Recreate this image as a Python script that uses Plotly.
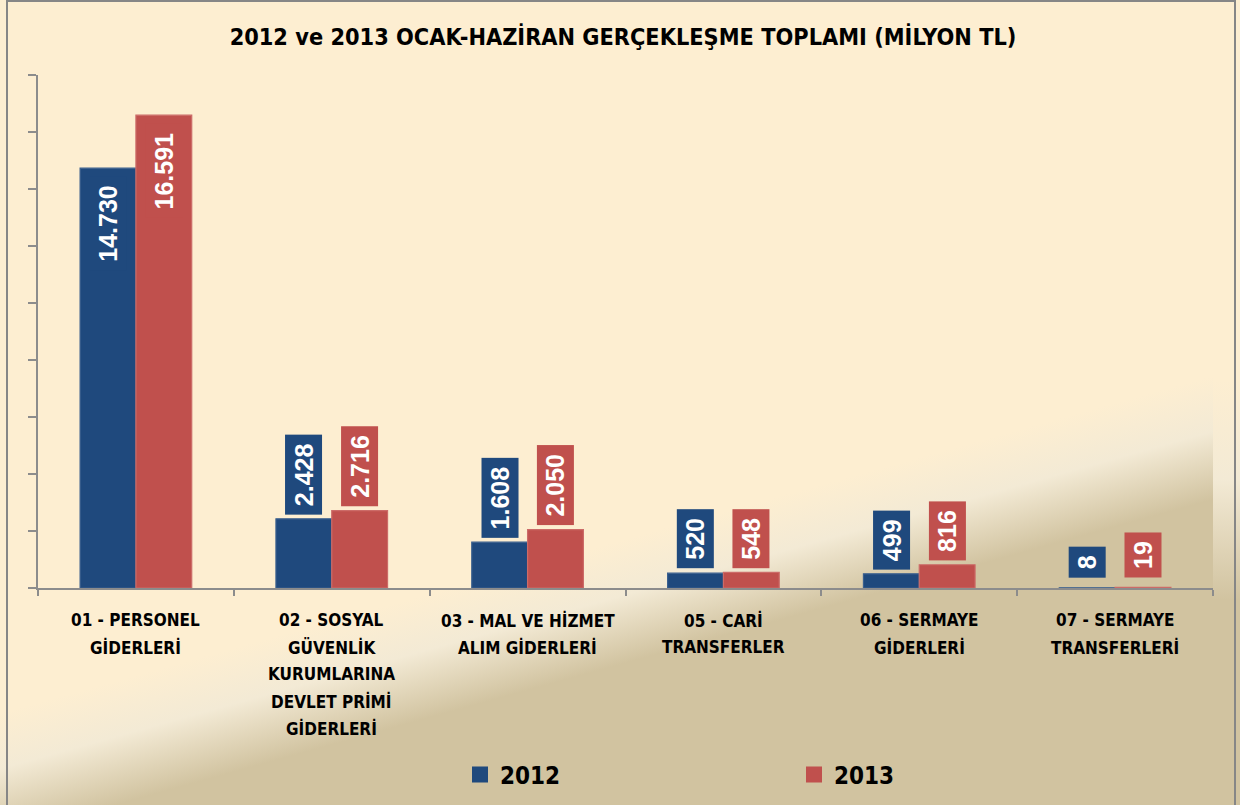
import base64
import plotly.graph_objects as go

# data (million TL)
categories = [
    "01 - PERSONEL\nGİDERLERİ",
    "02 - SOSYAL\nGÜVENLİK\nKURUMLARINA\nDEVLET PRİMİ\nGİDERLERİ",
    "03 - MAL VE HİZMET\nALIM GİDERLERİ",
    "05 - CARİ\nTRANSFERLER",
    "06 - SERMAYE\nGİDERLERİ",
    "07 - SERMAYE\nTRANSFERLERİ",
]
years = ["2012", "2013"]
values_2012 = [14730, 2428, 1608, 520, 499, 8]
values_2013 = [16591, 2716, 2050, 548, 816, 19]
colors = ["#1F497D", "#C0504D"]
edge_colors = ["#3A5F8E", "#CC6B68"]
title_text = "2012 ve 2013 OCAK-HAZİRAN GERÇEKLEŞME TOPLAMI (MİLYON TL)"

W, H = 1240, 805
ML, MR, MT, MB = 38, 27, 75, 217
PW, PH = W - ML - MR, H - MT - MB
YMAX = 18000
BARGAP = 0.43
NARROW = "DejaVu Sans Condensed, Liberation Sans Narrow, Arial Narrow, sans-serif"


def px_x(px):
    return (px - ML) / PW


def px_y(py):
    return (H - MB - py) / PH


def fmt(v):
    return f"{v:,}".replace(",", ".")


svg = f"""<svg xmlns='http://www.w3.org/2000/svg' width='{W}' height='{H + 40}'>
<defs>
<linearGradient id='a' gradientUnits='userSpaceOnUse' x1='604' y1='545' x2='636' y2='660'>
<stop offset='0' stop-color='#FDEED1'/><stop offset='0.45' stop-color='#F3EAD5'/><stop offset='1' stop-color='#D1C3A0'/>
</linearGradient>
<linearGradient id='b' gradientUnits='userSpaceOnUse' x1='0' y1='380' x2='0' y2='600'>
<stop offset='0' stop-color='#FDEED1'/><stop offset='0.45' stop-color='#F3EAD5'/><stop offset='1' stop-color='#D1C3A0'/>
</linearGradient>
</defs>
<rect width='{W}' height='{H + 40}' fill='url(#a)'/>
<rect x='{W - MR}' y='0' width='{MR}' height='{H + 40}' fill='url(#b)'/>
</svg>"""
bg_src = "data:image/svg+xml;base64," + base64.b64encode(svg.encode()).decode()

fig = go.Figure()
for year, vals, col, edge in zip(years, [values_2012, values_2013], colors, edge_colors):
    fig.add_trace(go.Bar(
        x=list(range(len(categories))), y=vals, name=year,
        marker=dict(color=col, line=dict(color=edge, width=1.2)),
        showlegend=False, hoverinfo="skip",
    ))
    # legend entry with a bigger square swatch
    fig.add_trace(go.Scatter(
        x=[None], y=[None], mode="markers", name=year,
        marker=dict(symbol="square", size=16, color=col),
    ))

# value labels: rotated boxes in the bar colour
bar_w = (1 - BARGAP) / 2
px_per_unit = PH / YMAX
annotations = []
for k, (vals, col) in enumerate(zip([values_2012, values_2013], colors)):
    off = (k - 0.5) * bar_w
    for i, v in enumerate(vals):
        s = fmt(v)
        tlen = sum(7.0 if c == "." else 13.9 for c in s)
        inside = v > 5000
        annotations.append(dict(
            x=i + off, y=v, xref="x", yref="y", text=s, showarrow=False,
            textangle=-90, bgcolor=col, borderpad=5, width=tlen + 6, height=26,
            font=dict(family="Liberation Sans, Arial, sans-serif", size=25, color="white", weight=700),
            yanchor="top" if inside else "bottom",
            yshift=-8 if inside else max(4, 10 - v * px_per_unit),
        ))

# category labels, one annotation per line for Excel-like line spacing
for i, cat in enumerate(categories):
    for j, line in enumerate(cat.split("\n")):
        annotations.append(dict(
            x=i, y=0, xref="x", yref="paper", text=line, showarrow=False,
            yanchor="middle", yshift=-(32 + 27 * j),
            font=dict(family=NARROW, size=17, color="black", weight=700),
        ))

fx0, fx1, fy0, fy1 = px_x(7), px_x(1235), px_y(1), px_y(900)
frame_path = f"M{fx0},{fy1} L{fx0},{fy0} L{fx1},{fy0} L{fx1},{fy1}"

fig.update_layout(
    width=W, height=H,
    margin=dict(l=ML, r=MR, t=MT, b=MB),
    paper_bgcolor="#FDEED1", plot_bgcolor="rgba(0,0,0,0)",
    barmode="group", bargap=BARGAP, bargroupgap=0,
    title=dict(text=title_text, x=623 / W, xanchor="center",
               y=1 - 37 / H, yanchor="middle",
               font=dict(family=NARROW, size=23.3, color="black", weight=700)),
    xaxis=dict(range=[-0.5, len(categories) - 0.5], showticklabels=False, showgrid=False,
               showline=True, linecolor="#8C8C8C", linewidth=2,
               ticks="outside", ticklen=6, tickcolor="#8C8C8C", tickwidth=1.5,
               tickmode="array", tickvals=[i - 0.5 for i in range(len(categories) + 1)],
               zeroline=False),
    yaxis=dict(range=[0, YMAX], dtick=2000, showticklabels=False, showgrid=False,
               showline=True, linecolor="#8C8C8C", linewidth=2,
               ticks="outside", ticklen=8, tickcolor="#8C8C8C", tickwidth=1.5,
               zeroline=False),
    legend=dict(orientation="h", xref="container", yref="container",
                x=460 / W, y=1 - 775 / H, xanchor="left", yanchor="middle",
                entrywidth=289, entrywidthmode="pixels", bgcolor="rgba(0,0,0,0)",
                font=dict(family=NARROW, size=24, color="black", weight=700)),
    annotations=annotations,
    images=[dict(source=bg_src, xref="paper", yref="paper",
                 x=-ML / PW, y=1 + MT / PH, sizex=W / PW, sizey=(H + 40) / PH,
                 xanchor="left", yanchor="top", sizing="stretch", layer="below")],
    shapes=[dict(type="path", xref="paper", yref="paper", path=frame_path,
                 line=dict(color="#868686", width=2), layer="above")],
)

fig.write_html("out.html", config={"displayModeBar": False},
               post_script="document.body.style.margin='0';")
